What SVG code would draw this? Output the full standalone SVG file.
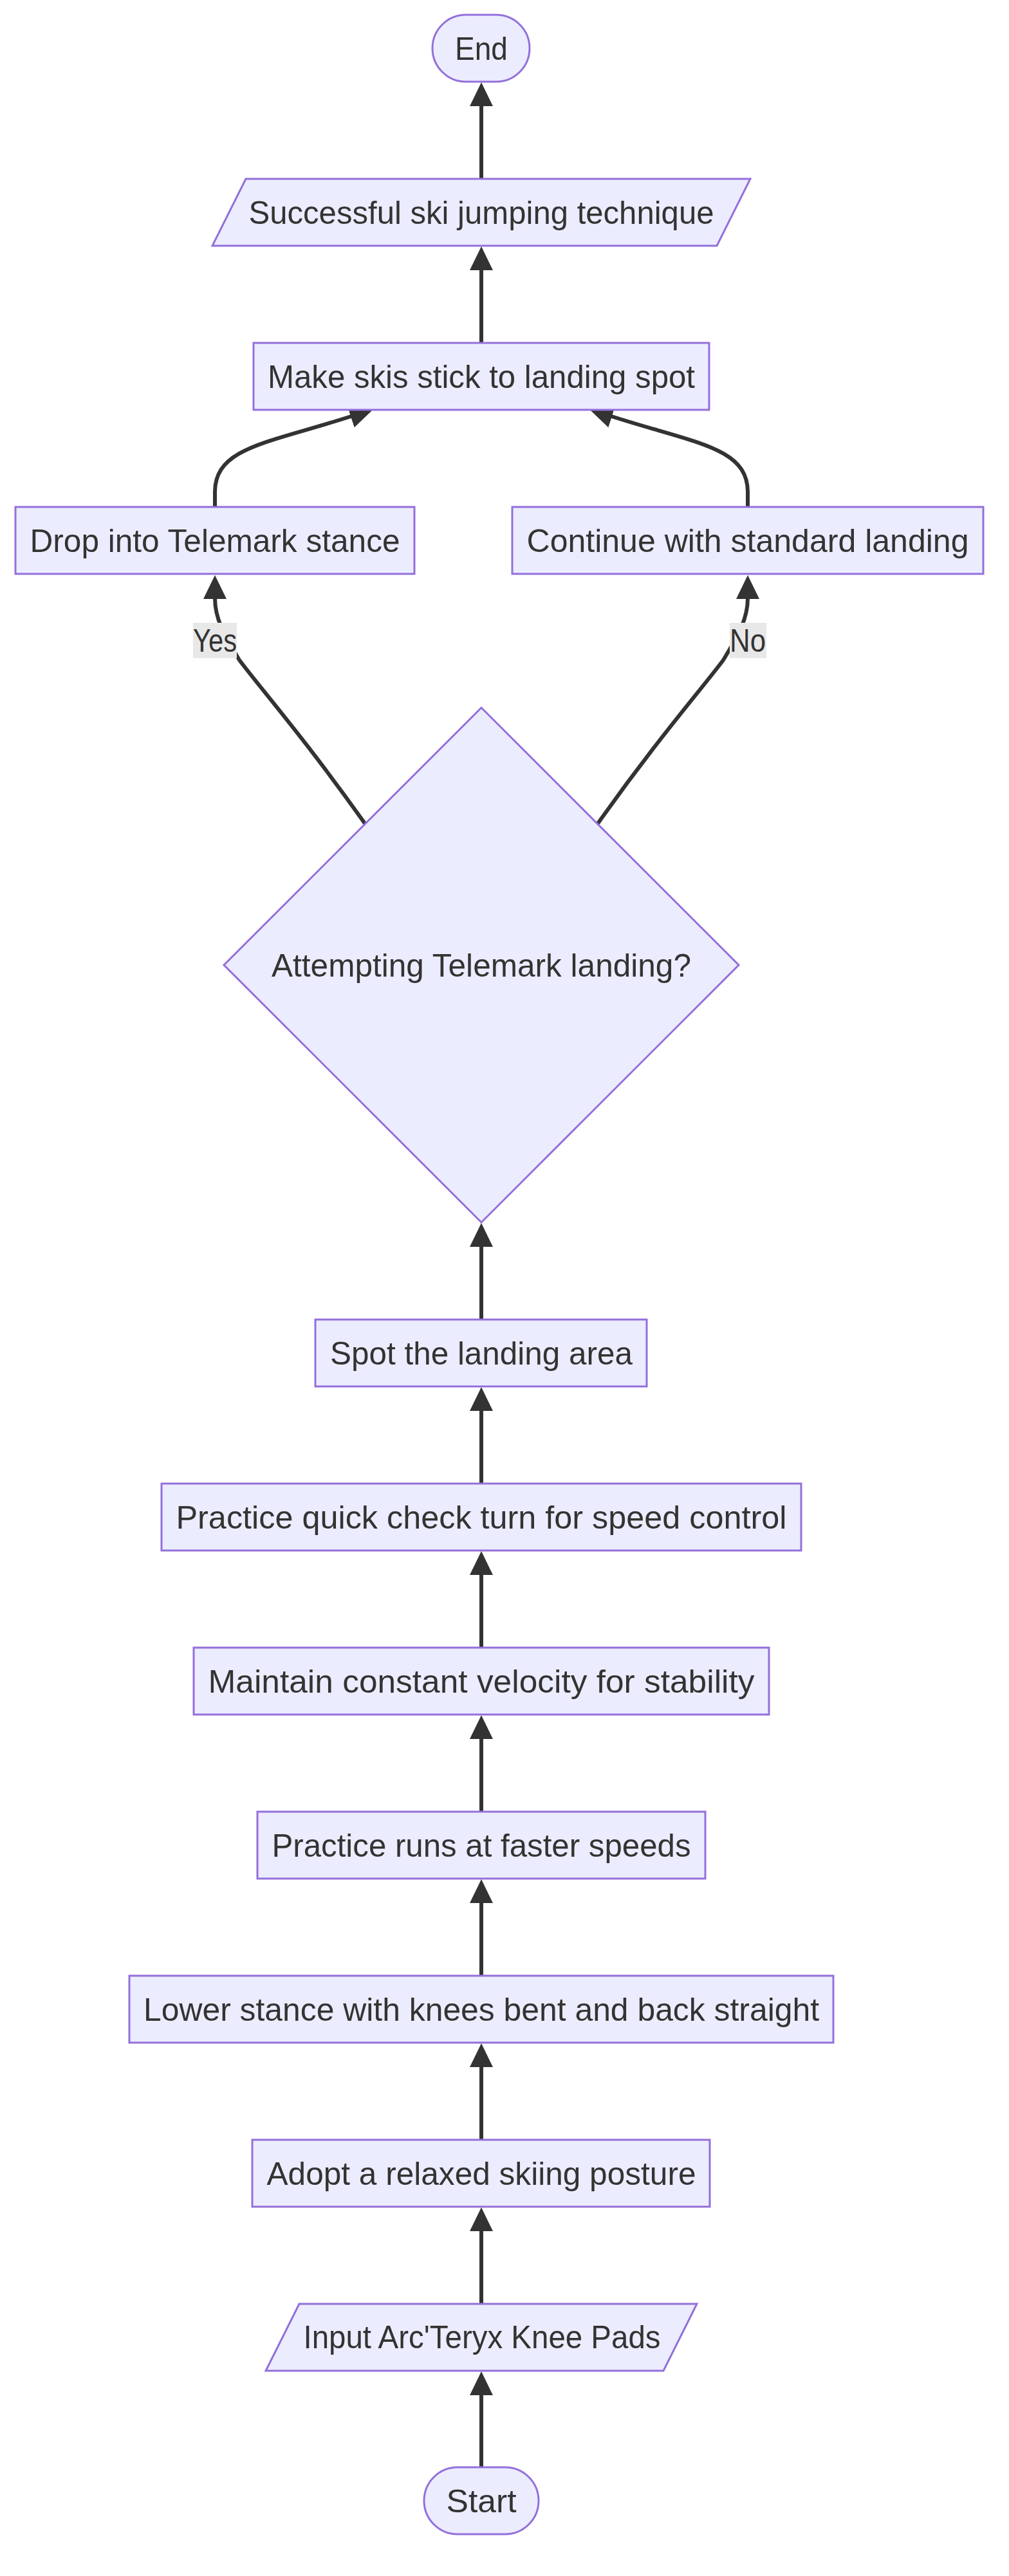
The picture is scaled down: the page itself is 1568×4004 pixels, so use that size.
<svg xmlns="http://www.w3.org/2000/svg" width="1568" height="4004" viewBox="0 0 1568 4004">
<style>
  .node rect, .node polygon { fill: #ECECFF; stroke: #9370DB; stroke-width: 3; }
  .node text, .lbl text { font-family: 'Trebuchet MS', 'Liberation Sans', Arial, sans-serif; font-size: 50px; fill: #333333; text-anchor: middle; }
  .edge { fill: none; stroke: #333333; stroke-width: 6; marker-end: url(#arrow); }
  .lbl rect { fill: #e8e8e8; }
</style>
<defs>
  <marker id="arrow" markerUnits="userSpaceOnUse" markerWidth="37" markerHeight="36" viewBox="0 0 37 36" refX="1" refY="18" orient="auto">
    <path d="M0,0 L37,18 L0,36 z" fill="#333333"/>
  </marker>
</defs>
<rect width="1568" height="4004" fill="#ffffff"/>

<g id="connectors">
  <path class="edge" d="M748,3835 L748,3722"/>
  <path class="edge" d="M748,3581 L748,3467"/>
  <path class="edge" d="M748,3326 L748,3212"/>
  <path class="edge" d="M748,3071 L748,2957"/>
  <path class="edge" d="M748,2816 L748,2702"/>
  <path class="edge" d="M748,2561 L748,2447"/>
  <path class="edge" d="M748,2306 L748,2192"/>
  <path class="edge" d="M748,2051 L748,1937"/>
  <path class="edge" d="M567,1280 C475,1150 405,1070 372,1026 C352,992 334,965 334,930"/>
  <path class="edge" d="M929,1280 C1021,1150 1091,1070 1124,1026 C1144,992 1162,965 1162,930"/>
  <path class="edge" d="M334,788 L334,765 C334,695 416,689 546,647"/>
  <path class="edge" d="M1162,788 L1162,765 C1162,695 1080,689 950,647"/>
  <path class="edge" d="M748,533 L748,419"/>
  <path class="edge" d="M748,278 L748,164"/>
  <g class="lbl" id="label-yes">
    <rect x="300" y="968" width="68" height="55"/>
    <text x="334" y="1013" textLength="68" lengthAdjust="spacingAndGlyphs">Yes</text>
  </g>
  <g class="lbl" id="label-no">
    <rect x="1134" y="968" width="57" height="55"/>
    <text x="1162" y="1013" textLength="56" lengthAdjust="spacingAndGlyphs">No</text>
  </g>
</g>

<g class="node" id="end">
  <rect x="672" y="23" width="151" height="104" rx="52" ry="52"/>
  <text x="748" y="92.5" textLength="82" lengthAdjust="spacingAndGlyphs">End</text>
</g>
<g class="node" id="successful">
  <polygon points="382,278 1166,278 1114,382 330,382"/>
  <text x="748" y="347.5" textLength="723" lengthAdjust="spacingAndGlyphs">Successful ski jumping technique</text>
</g>
<g class="node" id="make-skis">
  <rect x="394" y="533" width="708" height="104"/>
  <text x="748" y="602.5" textLength="664" lengthAdjust="spacingAndGlyphs">Make skis stick to landing spot</text>
</g>
<g class="node" id="drop-telemark">
  <rect x="24" y="788" width="620" height="104"/>
  <text x="334" y="857.5" textLength="575" lengthAdjust="spacingAndGlyphs">Drop into Telemark stance</text>
</g>
<g class="node" id="continue-standard">
  <rect x="796" y="788" width="732" height="104"/>
  <text x="1162" y="857.5" textLength="687" lengthAdjust="spacingAndGlyphs">Continue with standard landing</text>
</g>
<g class="node" id="decision">
  <polygon points="748,1100 1148,1500 748,1900 348,1500"/>
  <text x="748" y="1518" textLength="652" lengthAdjust="spacingAndGlyphs">Attempting Telemark landing?</text>
</g>
<g class="node" id="spot-landing">
  <rect x="490" y="2051" width="515" height="104"/>
  <text x="748" y="2120.5" textLength="470" lengthAdjust="spacingAndGlyphs">Spot the landing area</text>
</g>
<g class="node" id="check-turn">
  <rect x="251" y="2306" width="994" height="104"/>
  <text x="748" y="2375.5" textLength="949" lengthAdjust="spacingAndGlyphs">Practice quick check turn for speed control</text>
</g>
<g class="node" id="constant-velocity">
  <rect x="301" y="2561" width="894" height="104"/>
  <text x="748" y="2630.5" textLength="849" lengthAdjust="spacingAndGlyphs">Maintain constant velocity for stability</text>
</g>
<g class="node" id="faster-runs">
  <rect x="400" y="2816" width="696" height="104"/>
  <text x="748" y="2885.5" textLength="651" lengthAdjust="spacingAndGlyphs">Practice runs at faster speeds</text>
</g>
<g class="node" id="lower-stance">
  <rect x="201" y="3071" width="1094" height="104"/>
  <text x="748" y="3140.5" textLength="1050" lengthAdjust="spacingAndGlyphs">Lower stance with knees bent and back straight</text>
</g>
<g class="node" id="relaxed-posture">
  <rect x="392" y="3326" width="711" height="104"/>
  <text x="748" y="3395.5" textLength="667" lengthAdjust="spacingAndGlyphs">Adopt a relaxed skiing posture</text>
</g>
<g class="node" id="input-pads">
  <polygon points="465,3581 1083,3581 1031,3685 413,3685"/>
  <text x="749" y="3650" textLength="555" lengthAdjust="spacingAndGlyphs">Input Arc'Teryx Knee Pads</text>
</g>
<g class="node" id="start">
  <rect x="659" y="3835" width="178" height="104" rx="52" ry="52"/>
  <text x="748" y="3904.5" textLength="109" lengthAdjust="spacingAndGlyphs">Start</text>
</g>
</svg>
